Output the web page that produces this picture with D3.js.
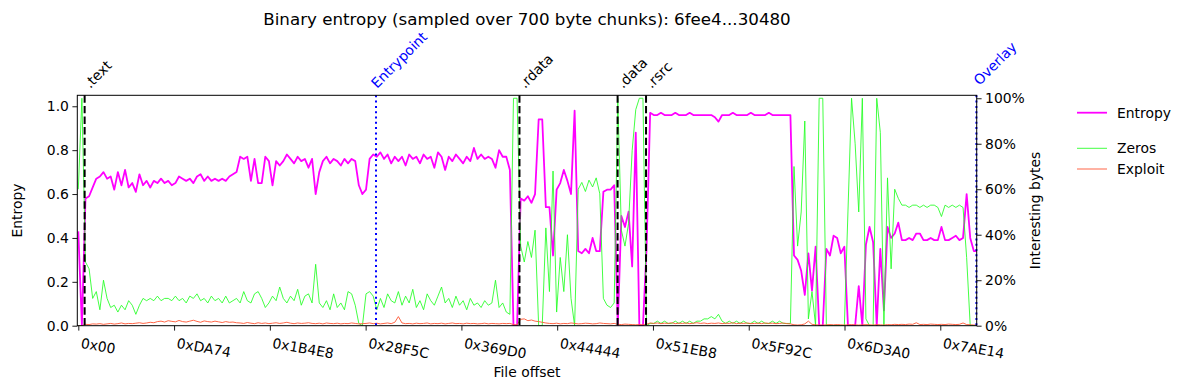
<!DOCTYPE html>
<html>
<head>
<meta charset="utf-8">
<script src="https://cdn.jsdelivr.net/npm/d3@7"></script>
<style>
  body { margin: 0; background: #fff; }
  svg text { font-family: "DejaVu Sans", sans-serif; fill: #000; }
</style>
</head>
<body>
<div id="chart-area"></div>
<script>
// one point every 3 chunks of 700 bytes
const CHUNK = 2100;

const entropy = [
  .43,0,.58,.59,.63,.67,.68,.70,.67,.68,
  .62,.70,.64,.71,.63,.65,.61,.69,.64,.66,
  .63,.66,.65,.67,.65,.66,.64,.65,.68,.67,
  .66,.67,.65,.68,.69,.66,.68,.66,.67,.66,
  .67,.66,.68,.69,.70,.77,.76,.77,.66,.76,
  .65,.65,.77,.75,.64,.75,.73,.75,.78,.76,
  .74,.77,.75,.76,.72,.76,.60,.70,.75,.77,
  .74,.76,.75,.73,.76,.74,.76,.75,.64,.60,
  .62,.76,.78,.77,.79,.76,.78,.74,.77,.75,
  .77,.73,.78,.76,.77,.74,.78,.76,.77,.72,
  .79,.77,.71,.77,.75,.78,.76,.74,.77,.75,
  .81,.76,.78,.76,.77,.76,.72,.80,.77,.77,
  .71,0,0,.58,.57,.59,.56,.60,.94,.94,
  .54,.54,.32,.62,.65,.71,.66,.60,.98,.34,
  .33,.35,.33,.40,.34,.34,.61,.62,.62,.64,
  0,.50,.45,.52,.27,.88,0,0,.35,.97,
  .96,.96,.97,.96,.96,.96,.97,.96,.96,.96,
  .97,.96,.96,.96,.96,.96,.96,.95,.93,.96,
  .96,.96,.97,.96,.96,.96,.96,.97,.96,.96,
  .96,.96,.97,.96,.96,.96,.96,.96,.96,.32,
  .30,.25,.14,.33,.16,.36,0,0,.35,.32,
  .41,.40,.33,.36,0,0,0,.18,0,.37,
  .45,.38,0,.35,.07,.45,.40,.42,.47,.39,
  .39,.40,.39,.42,.42,.39,.39,.40,.39,.39,
  .45,.39,.39,.40,.41,.39,.40,.60,.40,.34,
  .34
];

const zeros = [
  .60,1,.28,.25,.12,.15,.07,.20,.12,.08,
  .09,.06,.09,.07,.11,.09,.05,.09,.12,.11,
  .12,.11,.13,.11,.12,.12,.11,.13,.11,.12,
  .10,.13,.12,.14,.11,.12,.10,.13,.11,.12,
  .10,.13,.10,.11,.12,.10,.15,.11,.10,.14,
  .15,.12,.08,.10,.13,.11,.17,.12,.10,.13,
  .11,.16,.09,.13,.14,.10,.27,.10,.08,.11,
  .07,.14,.08,.10,.07,.15,.14,.09,.01,0,
  .14,.15,.13,.07,.12,.08,.14,.11,.10,.15,
  .09,.13,.10,.16,.08,.11,.07,.14,.11,.09,
  .13,.17,.10,.12,.08,.13,.09,.11,.07,.12,
  .09,.10,.08,.11,.09,.10,.20,.08,.10,.06,
  .05,1,1,.35,.28,.37,.30,.42,0,0,
  .43,.15,.68,.06,.30,.15,.40,.12,0,.60,
  .63,.59,.64,.61,.65,.58,.12,.09,.08,.10,
  1,.42,.35,.45,.77,.95,1,1,0,.01,
  .01,.02,.01,.02,.01,.01,.02,.01,.02,.01,
  .02,.01,.02,.02,.03,.03,.04,.03,.05,.02,
  .01,.02,.01,.02,.01,.02,.01,.01,.02,.01,
  .02,.01,.01,.02,.01,.02,.01,.01,.01,.70,
  .35,.50,.90,.03,.15,0,1,1,0,0,
  0,0,0,0,.50,1,.80,.50,1,.03,
  0,0,1,.85,0,.65,.25,.60,.56,.53,
  .53,.52,.53,.53,.52,.53,.52,.53,.53,.52,
  .48,.53,.52,.53,.52,.53,.52,.30,0,0,
  0
];

const exploit = [
  0,0,.006,.005,.008,.007,.009,.006,.008,.01,
  .007,.009,.012,.008,.01,.009,.011,.013,.01,.012,
  .015,.013,.018,.02,.016,.022,.019,.017,.023,.018,
  .016,.02,.024,.019,.015,.021,.018,.016,.02,.017,
  .014,.018,.015,.016,.013,.012,.01,.014,.011,.009,
  .013,.01,.012,.009,.011,.013,.01,.012,.015,.011,
  .009,.012,.01,.011,.013,.01,.009,.011,.008,.012,
  .01,.009,.011,.008,.01,.009,.012,.01,.008,.009,
  .01,.012,.009,.011,.008,.01,.012,.009,.015,.04,
  .012,.009,.01,.008,.011,.009,.01,.012,.008,.01,
  .009,.011,.008,.01,.012,.009,.01,.008,.011,.009,
  .01,.008,.009,.011,.008,.01,.009,.008,.01,.009,
  .01,.005,.004,.028,.03,.022,.025,.02,.018,.015,
  .012,.01,.009,.011,.008,.01,.009,.012,.01,.008,
  .009,.011,.01,.008,.009,.012,.01,.009,.008,.01,
  .006,.005,.007,.006,.005,.004,.005,.004,.006,.012,
  .01,.012,.009,.011,.01,.013,.009,.011,.01,.012,
  .009,.011,.013,.01,.012,.009,.011,.01,.012,.009,
  .011,.01,.013,.009,.011,.01,.012,.009,.01,.011,
  .009,.012,.01,.011,.009,.01,.012,.009,.008,.004,
  .003,.004,.008,.02,.006,.004,.003,.003,.004,.005,
  .004,.005,.004,.003,.004,.005,.004,.003,.004,.005,
  .004,.003,.005,.004,.003,.005,.004,.006,.005,.006,
  .005,.007,.006,.013,.005,.006,.005,.007,.006,.005,
  .006,.005,.007,.006,.005,.006,.012,.005,.004,.003,
  .003
];

const xTickLabels = ["0x00", "0xDA74", "0x1B4E8", "0x28F5C", "0x369D0",
                     "0x44444", "0x51EB8", "0x5F92C", "0x6D3A0", "0x7AE14"];
const entropyTicks = [0, 0.2, 0.4, 0.6, 0.8, 1.0];
const percentTicks = [0, 0.2, 0.4, 0.6, 0.8, 1.0];

const markerNames = [".text", "Entrypoint", ".rdata", ".data", ".rsrc", "Overlay"];
const markerOffsets = [3700, 173830, 257600, 314900, 331500, 524400];

const seriesNames = ["Entropy", "Zeros", "Exploit"];

const title = "Binary entropy (sampled over 700 byte chunks): 6fee4...30480";

let width = 1186, height = 390;
let plot = { left: 77.3, right: 976.7, top: 95.3, bottom: 325.7 };
let fontSize = "13.9px";

let svg = d3.select("#chart-area")
    .append("svg")
        .attr("width", width)
        .attr("height", height);

svg.append("rect").attr("width", width).attr("height", height).attr("fill", "#fff");

let x = d3.scaleLinear()
    .domain([-584, 524576])
    .range([plot.left, plot.right]);

let yLeft = d3.scaleLinear()
    .domain([0, 1.05])
    .range([plot.bottom, plot.top]);

let yRight = d3.scaleLinear()
    .domain([0, 1.013])
    .range([plot.bottom, plot.top]);

svg.append("clipPath").attr("id", "plot-clip")
  .append("rect")
    .attr("x", plot.left).attr("y", plot.top)
    .attr("width", plot.right - plot.left)
    .attr("height", plot.bottom - plot.top);

let area = svg.append("g").attr("clip-path", "url(#plot-clip)");

let offsets = entropy.map((d, i) => i * CHUNK);

let lineLeft = d3.line().x((d, i) => x(offsets[i])).y(d => yLeft(d));
let lineRight = d3.line().x((d, i) => x(offsets[i])).y(d => yRight(d));

// entropy on the main axis, the byte counts on the twin axis above it
area.append("path")
    .attr("d", lineLeft(entropy))
    .attr("fill", "none")
    .attr("stroke", "#ff00ff")
    .attr("stroke-width", 1.8)
    .attr("stroke-linejoin", "round");

area.append("path")
    .attr("d", lineRight(zeros))
    .attr("fill", "none")
    .attr("stroke", "#22ff22")
    .attr("stroke-opacity", 0.85)
    .attr("stroke-width", 1);

area.append("path")
    .attr("d", lineRight(exploit))
    .attr("fill", "none")
    .attr("stroke", "#ff5533")
    .attr("stroke-opacity", 0.9)
    .attr("stroke-width", 1);

// section / entrypoint / overlay markers
markerNames.forEach((name, i) => {
    let special = name === "Entrypoint" || name === "Overlay";
    let mx = x(markerOffsets[i]);
    svg.append("line")
        .attr("x1", mx).attr("x2", mx)
        .attr("y1", plot.top).attr("y2", plot.bottom)
        .attr("stroke", special ? "#0000ff" : "#000")
        .attr("stroke-width", 2)
        .attr("stroke-dasharray", special ? "2,3.3" : "7.4,3.2");

    let dx = name.startsWith(".") ? 5.5 : (name === "Overlay" ? 3 : 1);
    let ty = name === "Overlay" ? 86 : 89;
    svg.append("text")
        .attr("transform", `translate(${ mx + dx }, ${ ty }) rotate(-45)`)
        .attr("font-size", fontSize)
        .style("fill", special ? "#0000ff" : "#000")
        .text(name);
});

// frame
svg.append("rect")
    .attr("x", plot.left).attr("y", plot.top)
    .attr("width", plot.right - plot.left)
    .attr("height", plot.bottom - plot.top)
    .attr("fill", "none")
    .attr("stroke", "#000")
    .attr("stroke-width", 1);

// axes
let leftAxis = svg.append("g")
    .attr("transform", `translate(${ plot.left }, 0)`)
    .call(d3.axisLeft(yLeft)
        .tickValues(entropyTicks)
        .tickFormat(d3.format(".1f"))
        .tickSize(4.9)
        .tickPadding(3.5));

let rightAxis = svg.append("g")
    .attr("transform", `translate(${ plot.right }, 0)`)
    .call(d3.axisRight(yRight)
        .tickValues(percentTicks)
        .tickFormat(d => Math.round(d * 100) + "%")
        .tickSize(4.9)
        .tickPadding(3.5));

let xAxis = svg.append("g")
    .attr("transform", `translate(0, ${ plot.bottom })`)
    .call(d3.axisBottom(x)
        .tickValues(xTickLabels.map(s => parseInt(s, 16)))
        .tickFormat((d, i) => xTickLabels[i])
        .tickSize(4.9));

xAxis.selectAll("text")
    .attr("x", null).attr("y", null).attr("dy", null)
    .attr("text-anchor", "start")
    .attr("transform", "translate(1.5, 22) rotate(10)");

[leftAxis, rightAxis, xAxis].forEach(a => {
    a.select(".domain").remove();
    a.selectAll("text").attr("font-size", fontSize).attr("font-family", "DejaVu Sans, sans-serif");
    a.selectAll("line").attr("stroke", "#000").attr("stroke-width", 0.9);
});

// labels
svg.append("text")
    .attr("x", (plot.left + plot.right) / 2)
    .attr("y", 24.5)
    .attr("text-anchor", "middle")
    .attr("font-size", "16.7px")
    .text(title);

svg.append("text")
    .attr("x", (plot.left + plot.right) / 2)
    .attr("y", 377)
    .attr("text-anchor", "middle")
    .attr("font-size", fontSize)
    .text("File offset");

svg.append("text")
    .attr("transform", `translate(21.5, ${ (plot.top + plot.bottom) / 2 }) rotate(-90)`)
    .attr("text-anchor", "middle")
    .attr("font-size", fontSize)
    .text("Entropy");

svg.append("text")
    .attr("transform", `translate(1040, ${ (plot.top + plot.bottom) / 2 }) rotate(-90)`)
    .attr("text-anchor", "middle")
    .attr("font-size", fontSize)
    .text("Interesting bytes");

// legend
let legendRows = [
    { y: 112.7, color: "#ff00ff", w: 1.8, op: 1 },
    { y: 148.3, color: "#22ff22", w: 1, op: 0.85 },
    { y: 169.0, color: "#ff5533", w: 1, op: 0.9 }
];
let legend = svg.append("g");
seriesNames.forEach((name, i) => {
    let r = legendRows[i];
    legend.append("line")
        .attr("x1", 1077).attr("x2", 1107)
        .attr("y1", r.y).attr("y2", r.y)
        .attr("stroke", r.color)
        .attr("stroke-opacity", r.op)
        .attr("stroke-width", r.w);
    legend.append("text")
        .attr("x", 1117)
        .attr("y", r.y + 5)
        .attr("font-size", fontSize)
        .text(name);
});
</script>
</body>
</html>
